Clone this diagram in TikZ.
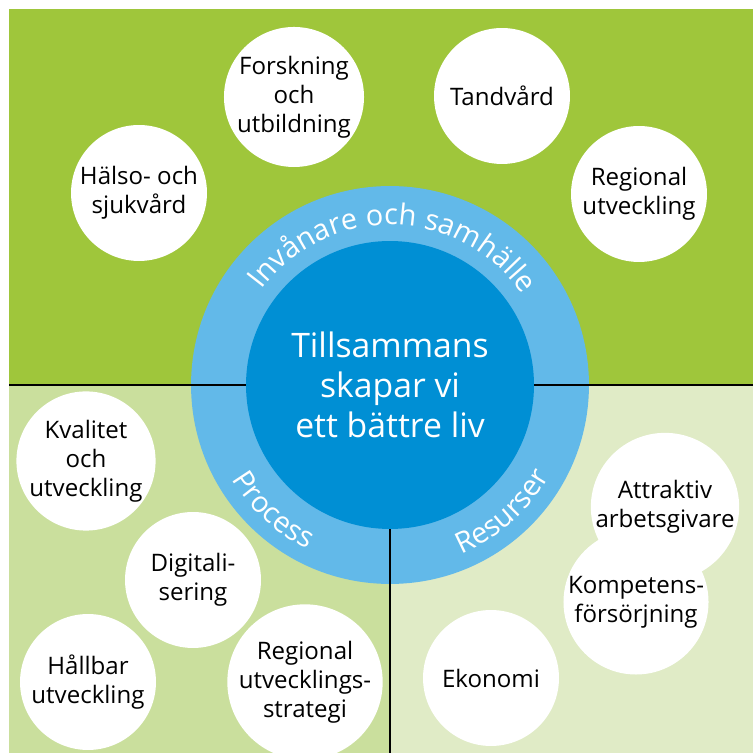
\documentclass[tikz,border=0pt]{standalone}
\usepackage{fontspec}
\setmainfont{Open Sans}
\usetikzlibrary{decorations.text}
\definecolor{topgreen}{HTML}{9FC63B}
\definecolor{procgreen}{HTML}{CADF9D}
\definecolor{resgreen}{HTML}{E0EBC6}
\definecolor{ringblue}{HTML}{62B9E9}
\definecolor{coreblue}{HTML}{008FD4}
\newcommand{\ringfont}{\color{white}\fontsize{16.5}{16.5}\selectfont}

\begin{document}
\begin{tikzpicture}[x=0.02cm,y=0.02cm,
	bubble/.style={circle,fill=white,minimum size=2.72cm,inner sep=0pt,align=center,
		font=\fontsize{13.7}{16.4}\selectfont,text=black},
	divider/.style={black,line width=1.1pt}]
	\useasboundingbox (0,0) rectangle (753,753);
	% fält
	\fill[topgreen] (9,368) rectangle (753,744);
	\fill[procgreen] (9,0) rectangle (390,368);
	\fill[resgreen] (390,0) rectangle (753,368);
	% ring
	\coordinate (c) at (390,368);
	\fill[ringblue] (c) circle[radius=3.98cm];
	\coordinate (west) at (9,368);
	\coordinate (east) at (753,368);
	\coordinate (south) at (390,0);
	\draw[divider] (west) -- (east);
	\draw[divider] (c) -- (south);
	\node[circle,fill=coreblue,minimum size=5.76cm,inner sep=0pt,align=center,text=white,
		font=\fontsize{19.2}{22.7}\selectfont] (core) at (c) {Tillsammans\\skapar vi\\ett bättre liv};
	% text i ringen
	\path[decorate,decoration={text along path,text align=center,
		text={|\ringfont|Invånare och samhälle}}]
		(c) ++(179:3.2cm) arc[start angle=179,end angle=-1,radius=3.2cm];
	\path[decorate,decoration={text along path,text align=center,
		text={|\ringfont|Process}}]
		(c) ++(187:3.68cm) arc[start angle=187,end angle=267,radius=3.68cm];
	\path[decorate,decoration={text along path,text align=center,
		text={|\ringfont|Resurser}}]
		(c) ++(271:3.68cm) arc[start angle=271,end angle=352,radius=3.68cm];
	% invånare och samhälle
	\node[bubble] (forsk) at (294,656) {Forskning\\och\\utbildning};
	\node[bubble] (tand) at (502,657) {Tandvård};
	\node[bubble] (halso) at (139,560) {Hälso- och\\sjukvård};
	\node[bubble] (regutv) at (639,559) {Regional\\utveckling};
	% process
	\node[bubble] (kval) at (86,292) {Kvalitet\\och\\utveckling};
	\node[bubble] (digi) at (193,173) {Digitali-\\sering};
	\node[bubble] (hallbar) at (88,71) {Hållbar\\utveckling};
	\node[bubble] (regstrat) at (305,71) {Regional\\utvecklings-\\strategi};
	% resurser
	\node[bubble] (attr) at (665,246) {Attraktiv\\arbetsgivare};
	\node[bubble] (komp) at (636,151) {Kompetens-\\försörjning};
	\node[bubble] (ekon) at (491,75) {Ekonomi};
\end{tikzpicture}
\end{document}
